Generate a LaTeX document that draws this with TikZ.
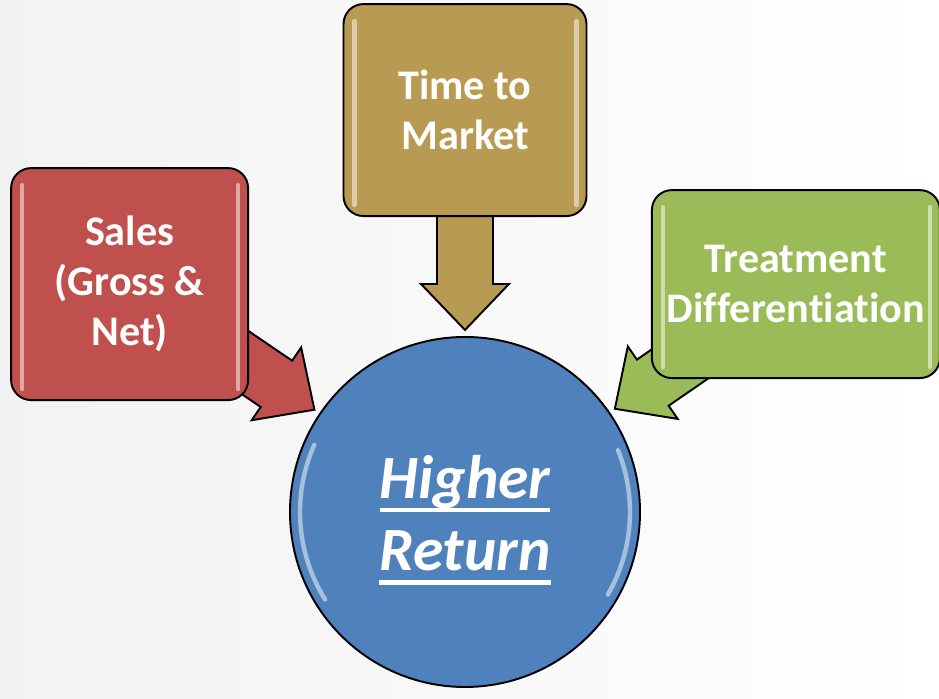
\documentclass[tikz,border=0pt]{standalone}
\usepackage{fontspec}
\setmainfont{Carlito}[Ligatures={NoCommon}]
\usepackage{tikz}
\usetikzlibrary{positioning,calc}

\definecolor{salesred}{HTML}{C0504D}
\definecolor{marketgold}{HTML}{B99A53}
\definecolor{treatgreen}{HTML}{9BBB59}
\definecolor{returnblue}{HTML}{4F81BD}

% underline at a fixed depth below the baseline
\newcommand{\ulword}[1]{\setbox0\hbox{#1}\rlap{\rule[-7.9pt]{\wd0}{2.3pt}}\box0}

\pgfdeclarelayer{bg}
\pgfdeclarelayer{arrowlayer}
\pgfsetlayers{bg,arrowlayer,main}

\begin{document}
\begin{tikzpicture}[
    font=\bfseries\fontsize{24}{28.5}\selectfont,
    factor/.style={
		rectangle,
		rounded corners=0.4cm,
		draw=black,
		line width=1.1pt,
		text=white,
		align=center,
		inner sep=0pt
	},
	goal/.style={
		circle,
		draw=black,
		line width=1.1pt,
		fill=returnblue,
		minimum size=7cm,
		inner sep=0pt
	},
	goaltext/.style={
		text=white,
		align=center,
		inner sep=0pt,
		font=\bfseries\itshape\fontsize{35}{41}\selectfont
	},
	bigarrow/.style={
		draw=black,
		line width=1.1pt,
		line join=miter
	},
	gloss/.style={
		draw=white,
		opacity=0.5,
		line width=2.5pt,
		line cap=round
	}
  ]

\useasboundingbox (0,0) rectangle (18.78,13.98);

% // the goal
\node [goal] (goal) at (9.30,3.74) {};
\node [goaltext, below=0.16cm of goal.center, anchor=center] (goallabel)
 {\ulword{Higher}\\\ulword{Return}};

% // the three factors
\node [factor, fill=salesred, minimum width=4.74cm, minimum height=4.64cm,
 above left=-0.27cm and 1.83cm of goal] (sales) {Sales\\(Gross \&\\Net)};
\node [factor, fill=marketgold, minimum width=4.86cm, minimum height=4.24cm,
 above=2.38cm of goal] (market) {Time to\\Market};
\node [factor, fill=treatgreen, minimum width=5.76cm, minimum height=3.76cm,
 above right=0.17cm and 1.23cm of goal] (treat) {Treatment\\Differentiation};

% // background
\begin{pgfonlayer}{bg}
 \fill [left color=gray!10, right color=white] (0,0) rectangle (18.78,13.98);
\end{pgfonlayer}

% // block arrows, behind the boxes
\begin{pgfonlayer}{arrowlayer}
 \coordinate (t1) at ($(goal.center)!3.64cm!(sales.center)$);
 \coordinate (h1) at ($(t1)!0.92cm!(sales.center)$);
 \draw [bigarrow, fill=salesred] ($(sales.center)!0.56cm!90:(t1)$)
  -- ($(h1)!0.56cm!90:(t1)$) -- ($(h1)!0.88cm!90:(t1)$) -- (t1)
  -- ($(h1)!0.88cm!-90:(t1)$) -- ($(h1)!0.56cm!-90:(t1)$)
  -- ($(sales.center)!0.56cm!-90:(t1)$) -- cycle;

 \coordinate (t2) at ($(goal.center)!3.64cm!(market.center)$);
 \coordinate (h2) at ($(t2)!0.92cm!(market.center)$);
 \draw [bigarrow, fill=marketgold] ($(market.center)!0.56cm!90:(t2)$)
  -- ($(h2)!0.56cm!90:(t2)$) -- ($(h2)!0.88cm!90:(t2)$) -- (t2)
  -- ($(h2)!0.88cm!-90:(t2)$) -- ($(h2)!0.56cm!-90:(t2)$)
  -- ($(market.center)!0.56cm!-90:(t2)$) -- cycle;

 \coordinate (t3) at ($(goal.center)!3.64cm!(treat.center)$);
 \coordinate (h3) at ($(t3)!0.92cm!(treat.center)$);
 \draw [bigarrow, fill=treatgreen] ($(treat.center)!0.56cm!90:(t3)$)
  -- ($(h3)!0.56cm!90:(t3)$) -- ($(h3)!0.88cm!90:(t3)$) -- (t3)
  -- ($(h3)!0.88cm!-90:(t3)$) -- ($(h3)!0.56cm!-90:(t3)$)
  -- ($(treat.center)!0.56cm!-90:(t3)$) -- cycle;
\end{pgfonlayer}

% // glossy streaks
\draw [gloss] ($(sales.north west)+(0.24,-0.36)$) -- ($(sales.south west)+(0.24,0.24)$);
\draw [gloss] ($(sales.north east)+(-0.22,-0.36)$) -- ($(sales.south east)+(-0.22,0.24)$);
\draw [gloss] ($(market.north west)+(0.24,-0.36)$) -- ($(market.south west)+(0.24,0.24)$);
\draw [gloss] ($(market.north east)+(-0.22,-0.36)$) -- ($(market.south east)+(-0.22,0.24)$);
\draw [gloss] ($(treat.north west)+(0.24,-0.36)$) -- ($(treat.south west)+(0.24,0.24)$);
\draw [gloss] ($(treat.north east)+(-0.22,-0.36)$) -- ($(treat.south east)+(-0.22,0.24)$);
\draw [gloss] ($(goal.center)+(156:3.3)$) arc [start angle=156, end angle=212, radius=3.3];
\draw [gloss] ($(goal.center)+(22:3.3)$) arc [start angle=22, end angle=-30, radius=3.3];

\end{tikzpicture}
\end{document}
